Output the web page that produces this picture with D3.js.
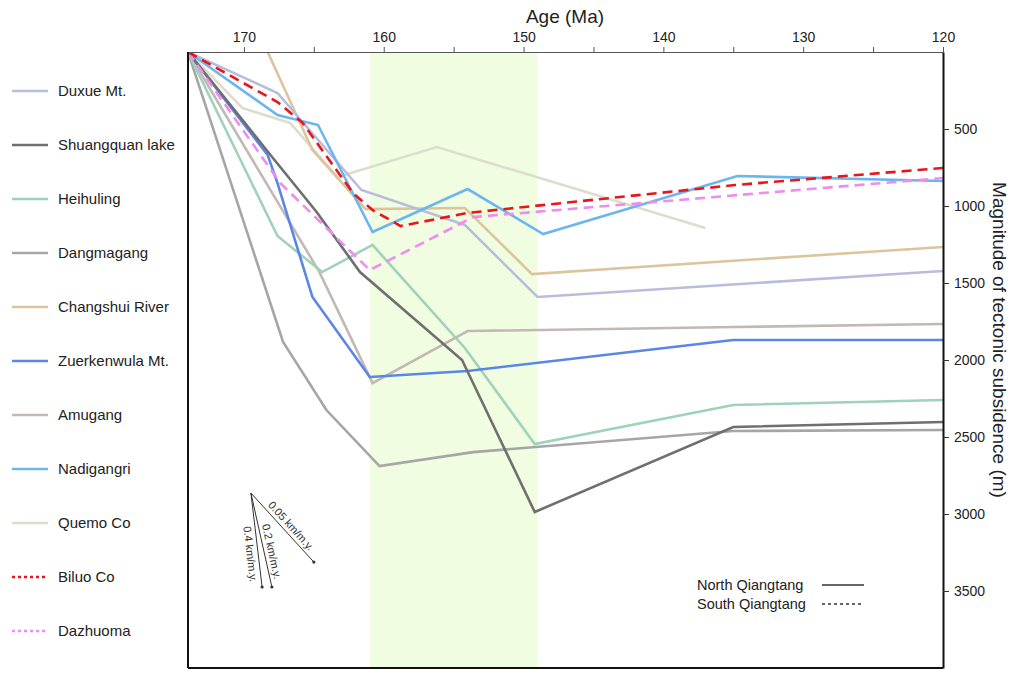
<!DOCTYPE html>
<html>
<head>
<meta charset="utf-8">
<script src="https://cdn.jsdelivr.net/npm/d3@7"></script>
<style>
  body { margin: 0; background: #fff; }
  svg { font-family: "Liberation Sans", Arial, sans-serif; }
</style>
</head>
<body>
<svg id="chart" width="1013" height="673"></svg>
<script>
// ---- data ----
const siteNames = ["Duxue Mt.", "Shuangquan lake", "Heihuling", "Dangmagang", "Changshui River",
  "Zuerkenwula Mt.", "Amugang", "Nadigangri", "Quemo Co", "Biluo Co", "Dazhuoma"];
const siteColors = ["#b9bddc", "#6f6f6f", "#9fd2b8", "#a6a6a6", "#dcc59d",
  "#5a86e6", "#c2b9b4", "#6cb6ef", "#deddcc", "#e8161c", "#ef8cef"];
const siteRegion = ["N","N","N","N","N","N","N","N","N","S","S"];

const duxueAge   = [174, 167.6, 161.6, 154.2, 149.0, 120];
const duxueDepth = [0, 266, 896, 1123, 1591, 1422];
const shuangAge   = [174, 168.1, 164.8, 161.7, 154.4, 149.2, 135.0, 120];
const shuangDepth = [0, 669, 1039, 1429, 2000, 2987, 2435, 2403];
const heihuAge   = [174, 167.6, 164.4, 160.8, 154.2, 149.2, 135.0, 120];
const heihuDepth = [0, 1195, 1429, 1253, 1922, 2546, 2292, 2260];
const dangAge   = [174, 167.2, 164.1, 160.3, 153.6, 135.0, 120];
const dangDepth = [0, 1883, 2325, 2689, 2598, 2461, 2455];
const changAge   = [168.3, 165.1, 161.3, 154.2, 149.4, 120];
const changDepth = [0, 636, 1020, 1013, 1442, 1266];
const zuerAge   = [174, 168.3, 167.6, 165.1, 161.0, 154.0, 135.0, 120];
const zuerDepth = [0, 669, 851, 1591, 2110, 2071, 1870, 1870];
const amuAge   = [174, 164.6, 160.8, 154.0, 134.9, 120];
const amuDepth = [0, 1429, 2150, 1812, 1786, 1766];
const nadiAge   = [174, 167.6, 164.7, 160.8, 154.0, 148.6, 134.7, 120];
const nadiDepth = [0, 409, 474, 1169, 890, 1182, 805, 838];
const quemoAge   = [174, 170.1, 166.7, 163.3, 156.2, 137.0];
const quemoDepth = [0, 364, 461, 812, 617, 1143];
const biluoAge   = [174, 167.6, 165.8, 162.2, 160.8, 158.8, 154.0, 134.9, 120];
const biluoDepth = [0, 325, 461, 916, 1026, 1130, 1045, 864, 753];
const dazhuoAge   = [174, 167.4, 161.0, 153.6, 120];
const dazhuoDepth = [0, 851, 1416, 1072, 818];

const seriesAges = [duxueAge, shuangAge, heihuAge, dangAge, changAge, zuerAge, amuAge, nadiAge, quemoAge, biluoAge, dazhuoAge];
const seriesDepths = [duxueDepth, shuangDepth, heihuDepth, dangDepth, changDepth, zuerDepth, amuDepth, nadiDepth, quemoDepth, biluoDepth, dazhuoDepth];

const shadeRange = [161, 149];
const xMajorTicks = [170, 160, 150, 140, 130, 120];
const xMinorTicks = [165, 155, 145, 135, 125];
const yTicks = [500, 1000, 1500, 2000, 2500, 3000, 3500];

// subsidence-rate key (annotation)
const rateLabels = ["0.4 km/m.y.", "0.2 km/m.y.", "0.05 km/m.y."];
const rateOrigin = [169.5, 2864];
const rateEndAge = [168.7, 168.0, 165.0];
const rateEndDepth = [3474, 3474, 3312];

const regionLabels = ["North Qiangtang", "South Qiangtang"];

// ---- layout ----
const svg = d3.select("#chart");
const L = 188, R = 943, T = 52, B = 668;
const x = d3.scaleLinear().domain([174, 120]).range([L, R]);
const y = d3.scaleLinear().domain([0, 4000]).range([T, B]);

// shaded interval
svg.append("rect")
  .attr("x", x(shadeRange[0])).attr("y", T)
  .attr("width", x(shadeRange[1]) - x(shadeRange[0])).attr("height", B - T)
  .attr("fill", "#f1fde0");

// lines
const line = d3.line().x(d => x(d[0])).y(d => y(d[1]));
svg.append("clipPath").attr("id", "clip").append("rect")
  .attr("x", L).attr("y", T).attr("width", R - L).attr("height", B - T);
const drawOrder = [8, 4, 0, 6, 3, 2, 7, 5, 1, 10, 9];
drawOrder.forEach(i => {
  const pts = seriesAges[i].map((a, k) => [a, seriesDepths[i][k]]);
  svg.append("path")
    .attr("d", line(pts))
    .attr("fill", "none")
    .attr("stroke", siteColors[i])
    .attr("stroke-width", 2.6)
    .attr("stroke-linejoin", "miter")
    .attr("clip-path", "url(#clip)")
    .attr("stroke-dasharray", siteRegion[i] === "S" ? "10,6" : null);
});

// frame
svg.append("line").attr("x1", L).attr("x2", L).attr("y1", T).attr("y2", B).attr("stroke", "#111").attr("stroke-width", 2);
svg.append("line").attr("x1", L).attr("x2", R).attr("y1", B).attr("y2", B).attr("stroke", "#111").attr("stroke-width", 2);

// top axis
const gx = svg.append("g").attr("transform", `translate(0,${T})`)
  .call(d3.axisTop(x).tickValues(xMajorTicks).tickSize(5).tickSizeOuter(0).tickFormat(d3.format("d")));
gx.select(".domain").attr("stroke", "#555").attr("stroke-width", 1);
gx.selectAll(".tick line").attr("stroke", "#555");
gx.selectAll("text").attr("font-size", 14).attr("fill", "#222").attr("dy", "-2");
const gxm = svg.append("g").attr("transform", `translate(0,${T})`)
  .call(d3.axisTop(x).tickValues(xMinorTicks).tickSize(5).tickFormat(""));
gxm.select(".domain").remove();
gxm.selectAll(".tick line").attr("stroke", "#555");

// right axis
const gy = svg.append("g").attr("transform", `translate(${R},0)`)
  .call(d3.axisRight(y).tickValues(yTicks).tickSize(6).tickSizeOuter(0).tickPadding(5).tickFormat(d3.format("d")));
gy.select(".domain").attr("stroke", "#111").attr("stroke-width", 2);
gy.selectAll(".tick line").attr("stroke", "#333");
gy.selectAll("text").attr("font-size", 14).attr("fill", "#222");

// titles
svg.append("text").attr("x", 565).attr("y", 23).attr("text-anchor", "middle")
  .attr("font-size", 19).attr("fill", "#222").text("Age (Ma)");
svg.append("text").attr("transform", `translate(${R + 50},340) rotate(90)`)
  .attr("text-anchor", "middle").attr("font-size", 19).attr("fill", "#222")
  .text("Magnitude of tectonic subsidence (m)");

// left legend
siteNames.forEach((n, i) => {
  const yy = 91 + i * 54;
  svg.append("line").attr("x1", 12).attr("x2", 48).attr("y1", yy).attr("y2", yy)
    .attr("stroke", siteColors[i]).attr("stroke-width", 2.6)
    .attr("stroke-dasharray", siteRegion[i] === "S" ? "3,3" : null);
  svg.append("text").attr("x", 58).attr("y", yy + 5).attr("font-size", 15).attr("fill", "#222").text(n);
});

// rate key
const ox = x(rateOrigin[0]), oy = y(rateOrigin[1]);
const rateT = [0.64, 0.64, 0.55];
rateLabels.forEach((lab, i) => {
  const ex = x(rateEndAge[i]), ey = y(rateEndDepth[i]);
  svg.append("line").attr("x1", ox).attr("y1", oy).attr("x2", ex).attr("y2", ey)
    .attr("stroke", "#333").attr("stroke-width", 1);
  svg.append("circle").attr("cx", ex).attr("cy", ey).attr("r", 1.6).attr("fill", "#333");
  const ang = Math.atan2(ey - oy, ex - ox) * 180 / Math.PI;
  const mx = ox + (ex - ox) * rateT[i], my = oy + (ey - oy) * rateT[i];
  const t = svg.append("text")
    .attr("transform", `translate(${mx},${my}) rotate(${ang})`)
    .attr("text-anchor", "middle").attr("font-size", 11).attr("fill", "#333")
    .text(lab);
  if (i === 0) t.attr("dy", "1.05em"); else t.attr("dy", "-0.35em");
});

// region legend
regionLabels.forEach((lab, i) => {
  const yy = 585 + i * 19;
  svg.append("text").attr("x", 697).attr("y", yy + 5).attr("font-size", 14.5).attr("fill", "#222").text(lab);
  svg.append("line").attr("x1", 822).attr("x2", 864).attr("y1", yy).attr("y2", yy)
    .attr("stroke", "#333").attr("stroke-width", 1.6)
    .attr("stroke-dasharray", i === 1 ? "3,3" : null);
});
</script>
</body>
</html>
